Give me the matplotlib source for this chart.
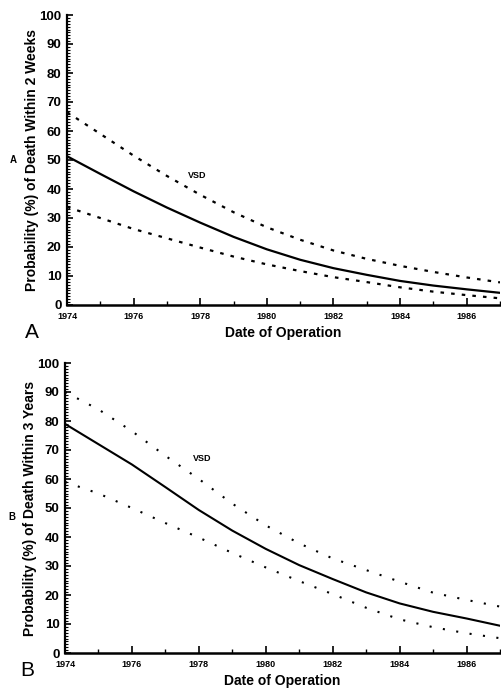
import numpy as np
import matplotlib.pyplot as plt
from matplotlib.ticker import MultipleLocator

plt.rcParams['font.family'] = ['Liberation Sans', 'DejaVu Sans']

years = [1974, 1975, 1976, 1977, 1978, 1979, 1980, 1981, 1982, 1983, 1984, 1985, 1986, 1987]

# panel A: death within 2 weeks
a_mid = [51.3, 45.2, 39.2, 33.6, 28.4, 23.5, 19.2, 15.6, 12.7, 10.4, 8.3, 6.7, 5.4, 4.2]
a_hi = [66.5, 59.0, 51.5, 44.5, 38.0, 32.0, 26.8, 22.5, 18.8, 15.9, 13.5, 11.4, 9.5, 7.8]
a_lo = [33.8, 30.0, 26.2, 23.0, 19.8, 16.7, 14.0, 11.7, 9.6, 7.9, 6.1, 4.6, 3.4, 2.3]

# panel B: death within 3 years
b_mid = [79.0, 72.0, 65.0, 57.2, 49.3, 42.2, 35.9, 30.3, 25.5, 20.9, 17.1, 14.2, 11.9, 9.4]
b_hi = [90.0, 84.0, 76.5, 68.0, 60.0, 51.5, 44.0, 37.8, 32.6, 28.6, 24.6, 20.8, 18.3, 16.0]
b_lo = [59.0, 55.0, 50.0, 44.8, 39.8, 34.5, 29.5, 24.8, 20.3, 15.6, 11.6, 8.9, 6.8, 5.1]

xticks = [1974, 1976, 1978, 1980, 1982, 1984, 1986]

fig = plt.figure(figsize=(5.01, 6.89), dpi=100)
axA = fig.add_axes([67/501, 1-305/689, 433/501, 290/689])
axB = fig.add_axes([65/501, 1-653/689, 435/501, 290/689])


def setup(ax, ylabel):
    ax.set_xlim(1974, 1987)
    ax.set_ylim(0, 100)
    for s in ['top', 'right']:
        ax.spines[s].set_visible(False)
    ax.spines['left'].set_linewidth(1.6)
    ax.spines['bottom'].set_linewidth(1.8)
    ax.set_xticks(xticks)
    ax.xaxis.set_minor_locator(MultipleLocator(1))
    ax.yaxis.set_major_locator(MultipleLocator(10))
    ax.yaxis.set_minor_locator(MultipleLocator(1))
    ax.tick_params(axis='x', which='major', direction='in', length=5, width=1.2, labelsize=6.5, pad=5)
    ax.tick_params(axis='x', which='minor', direction='in', length=3, width=1)
    ax.tick_params(axis='y', which='major', direction='in', length=4, width=1.2, labelsize=9.5, pad=4)
    ax.tick_params(axis='y', which='minor', direction='in', length=2, width=0.8)
    for lab in ax.get_xticklabels() + ax.get_yticklabels():
        lab.set_fontweight('bold')
    ax.set_ylabel(ylabel, fontsize=10, fontweight='bold', labelpad=0.5)
    ax.set_xlabel('Date of Operation', fontsize=10, fontweight='bold', labelpad=4)


axA.plot(years, a_mid, color='black', lw=1.6)
axA.plot(years, a_hi, color='black', lw=1.6, linestyle=(0, (1.6, 3.2)))
axA.plot(years, a_lo, color='black', lw=1.6, linestyle=(0, (1.6, 3.2)))
axA.text(1977.9, 44.8, 'VSD', fontsize=6.5, fontweight='bold', ha='center', va='center')
setup(axA, 'Probability (%) of Death Within 2 Weeks')

axB.plot(years, b_mid, color='black', lw=1.5)
axB.plot(years, b_hi, color='black', lw=1.5, linestyle=(0, (1, 5.5)))
axB.plot(years, b_lo, color='black', lw=1.5, linestyle=(0, (1, 5.5)))
axB.text(1978.1, 67.1, 'VSD', fontsize=6.5, fontweight='bold', ha='center', va='center')
setup(axB, 'Probability (%) of Death Within 3 Years')

fig.text(13/501, 1-160/689, 'A', fontsize=7, fontweight='bold', ha='center', va='center')
fig.text(32/501, 1-332/689, 'A', fontsize=15, ha='center', va='center')
fig.text(12/501, 1-517/689, 'B', fontsize=7, fontweight='bold', ha='center', va='center')
fig.text(27/501, 1-670/689, 'B', fontsize=15, ha='center', va='center')

fig.savefig('out.png', dpi=100)
